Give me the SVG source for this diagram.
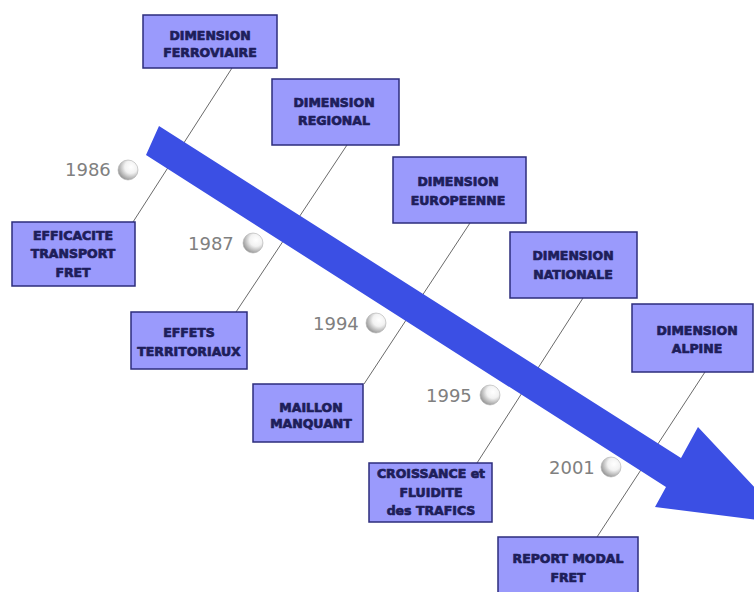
<svg xmlns="http://www.w3.org/2000/svg" width="754" height="592" viewBox="0 0 754 592">
<style>
.box{fill:#9a9afc;stroke:#2c2c7c;stroke-width:1.5}
.lbl{font-family:"DejaVu Sans","Liberation Sans",sans-serif;font-weight:bold;font-size:12.5px;fill:#1e1e5a;text-anchor:middle;stroke:#1e1e5a;stroke-width:0.7;stroke-linejoin:round}
.yr{font-family:"DejaVu Sans","Liberation Sans",sans-serif;font-size:18px;fill:#808080}
.ln{stroke:#6a6a6a;stroke-width:1;fill:none}
.ball{fill:url(#bg);stroke:#b0b0b0;stroke-width:0.6}
</style>
<defs>
<radialGradient id="bg" cx="0.65" cy="0.35" r="0.7">
<stop offset="0" stop-color="#ffffff"/>
<stop offset="0.45" stop-color="#f2f2f2"/>
<stop offset="1" stop-color="#949494"/>
</radialGradient>
</defs>
<rect width="754" height="592" fill="#ffffff"/>
<g id="connectors">
<line class="ln" x1="232" y1="68" x2="133" y2="222"/>
<line class="ln" x1="347" y1="145" x2="236" y2="312"/>
<line class="ln" x1="470" y1="223" x2="364" y2="384"/>
<line class="ln" x1="583" y1="298" x2="477" y2="463"/>
<line class="ln" x1="705" y1="372" x2="597" y2="537"/>
</g>
<g id="arrow">
<polygon points="159,126 681,458 698,427 789,524 655,507 666,487 146,155" fill="#3b4fe4"/>
</g>
<g id="years">
<g id="y1986"><text class="yr" x="65" y="176">1986</text><circle class="ball" cx="128" cy="170" r="10"/></g>
<g id="y1987"><text class="yr" x="188" y="250">1987</text><circle class="ball" cx="253" cy="243" r="10"/></g>
<g id="y1994"><text class="yr" x="313" y="330">1994</text><circle class="ball" cx="376" cy="323" r="10"/></g>
<g id="y1995"><text class="yr" x="426" y="402">1995</text><circle class="ball" cx="490" cy="395" r="10"/></g>
<g id="y2001"><text class="yr" x="549" y="474">2001</text><circle class="ball" cx="611" cy="467" r="10"/></g>
</g>
<g id="n-ferroviaire"><rect class="box" x="143" y="15" width="134" height="53"/><text class="lbl" x="210" y="40">DIMENSION</text><text class="lbl" x="210" y="57">FERROVIAIRE</text></g>
<g id="n-regional"><rect class="box" x="272" y="79" width="127" height="66"/><text class="lbl" x="334" y="107">DIMENSION</text><text class="lbl" x="334" y="125">REGIONAL</text></g>
<g id="n-europeenne"><rect class="box" x="393" y="157" width="133" height="66"/><text class="lbl" x="458" y="186">DIMENSION</text><text class="lbl" x="458" y="205">EUROPEENNE</text></g>
<g id="n-nationale"><rect class="box" x="510" y="232" width="127" height="66"/><text class="lbl" x="573" y="260">DIMENSION</text><text class="lbl" x="573" y="279">NATIONALE</text></g>
<g id="n-alpine"><rect class="box" x="632" y="304" width="121" height="68"/><text class="lbl" x="697" y="335">DIMENSION</text><text class="lbl" x="697" y="353">ALPINE</text></g>
<g id="n-efficacite"><rect class="box" x="12" y="222" width="123" height="64"/><text class="lbl" x="73" y="240">EFFICACITE</text><text class="lbl" x="73" y="258">TRANSPORT</text><text class="lbl" x="73" y="277">FRET</text></g>
<g id="n-effets"><rect class="box" x="131" y="312" width="116" height="57"/><text class="lbl" x="189" y="337">EFFETS</text><text class="lbl" x="189" y="356">TERRITORIAUX</text></g>
<g id="n-maillon"><rect class="box" x="253" y="384" width="110" height="58"/><text class="lbl" x="311" y="412">MAILLON</text><text class="lbl" x="311" y="428">MANQUANT</text></g>
<g id="n-croissance"><rect class="box" x="369" y="463" width="123" height="59"/><text class="lbl" x="431" y="478">CROISSANCE et</text><text class="lbl" x="431" y="497">FLUIDITE</text><text class="lbl" x="431" y="515">des TRAFICS</text></g>
<g id="n-report"><rect class="box" x="498" y="537" width="140" height="57"/><text class="lbl" x="568" y="563">REPORT MODAL</text><text class="lbl" x="568" y="582">FRET</text></g>
</svg>
